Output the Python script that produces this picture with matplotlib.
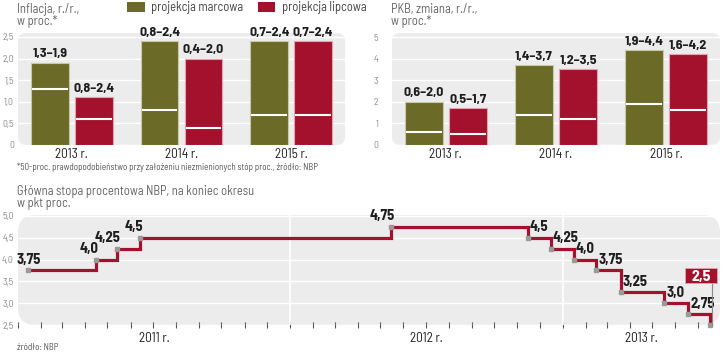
import numpy as np
import matplotlib
matplotlib.use('Agg')
import matplotlib.pyplot as plt
import matplotlib.dates as mdates
from matplotlib.patches import FancyBboxPatch, Patch, Rectangle
from matplotlib.transforms import ScaledTranslation
from matplotlib import font_manager as fm
import datetime as dt

# Fonts (first available from each list)
names = {f.name for f in fm.fontManager.ttflist}


def pick(*cands):
    return [c for c in cands if c in names] + ['DejaVu Sans']


num_font = pick('Barlow Semi Condensed', 'Liberation Sans Narrow', 'Liberation Sans')
txt_font = pick('Barlow Semi Condensed', 'Liberation Sans Narrow', 'Liberation Sans')
plt.rcParams['font.family'] = txt_font

olive = '#6b6a27'
red = '#a4112c'
panel = '#ececec'
gray_txt = '#666666'
tick_txt = '#8a8a8a'

# Data
years = ['2013 r.', '2014 r.', '2015 r.']
series = ['projekcja marcowa', 'projekcja lipcowa']

infl_march_low = [1.3, 0.8, 0.7]
infl_march_high = [1.9, 2.4, 2.4]
infl_july_low = [0.6, 0.4, 0.7]
infl_july_high = [1.1, 2.0, 2.4]
infl_march_labels = ['1,3–1,9', '0,8–2,4', '0,7–2,4']
infl_july_labels = ['0,8–2,4', '0,4–2,0', '0,7–2,4']

gdp_march_low = [0.6, 1.4, 1.9]
gdp_march_high = [2.0, 3.7, 4.4]
gdp_july_low = [0.5, 1.2, 1.6]
gdp_july_high = [1.7, 3.5, 4.2]
gdp_march_labels = ['0,6–2,0', '1,4–3,7', '1,9–4,4']
gdp_july_labels = ['0,5–1,7', '1,2–3,5', '1,6–4,2']

rate_dates = ['2011-01-15', '2011-04-15', '2011-05-14', '2011-06-14', '2012-05-16',
              '2012-11-15', '2012-12-16', '2013-01-16', '2013-02-15', '2013-03-20',
              '2013-05-17', '2013-06-18', '2013-07-18']
rate_values = [3.75, 4.0, 4.25, 4.5, 4.75, 4.5, 4.25, 4.0, 3.75, 3.25, 3.0, 2.75, 2.5]

fig = plt.figure(figsize=(7.21, 3.54), dpi=100)
W, H = 721.0, 354.0


def add_panel(ax):
    bb = ax.get_position()
    asp = (bb.width * W) / (bb.height * H)
    p = FancyBboxPatch((0, 0), 1, 1, boxstyle='round,pad=0,rounding_size=0.025',
                       mutation_aspect=asp, transform=ax.transAxes,
                       facecolor=panel, edgecolor='none', zorder=0, clip_on=False)
    ax.add_patch(p)
    ax.patch.set_visible(False)
    for s in ax.spines.values():
        s.set_visible(False)
    ax.set_axisbelow(True)
    ax.grid(axis='y', color='white', linewidth=1)
    ax.grid(axis='x', visible=False)


def comma(v):
    s = '%.1f' % v if round(v * 10) == v * 10 else '%.2f' % v
    return s.replace('.', ',')


def range_bars(ax, lows_a, highs_a, labs_a, lows_b, highs_b, labs_b, ymax, yticks, ylabs, pad):
    x = np.arange(len(years))
    w = 0.345
    for off, lows, highs, labs, c, ec in [(-0.2, lows_a, highs_a, labs_a, olive, '#c9c8a6'),
                                          (0.2, lows_b, highs_b, labs_b, red, '#e3a3ae')]:
        ax.bar(x + off, highs, width=w, color=c, edgecolor=ec, linewidth=0.8, zorder=2)
        ax.hlines(lows, x + off - w / 2 + 0.01, x + off + w / 2 - 0.01, color='white',
                  linewidth=1.5, zorder=3)
        for xi, hi, lab in zip(x + off, highs, labs):
            ax.annotate(lab, (xi, hi), xytext=(0, 2.5), textcoords='offset points',
                        ha='center', va='bottom', fontsize=10, fontweight='bold',
                        family=num_font, color='#1e1e1e', zorder=4)
    ax.set_xlim(-0.49, 2.49)
    ax.set_ylim(0, ymax)
    ax.set_yticks(yticks, ylabs)
    ax.set_xticks(x, years)
    ax.tick_params(axis='y', length=0, pad=pad, labelsize=7, labelcolor=tick_txt)
    ax.tick_params(axis='x', length=0, pad=2, labelsize=9.5, labelcolor='#222222')


# Inflation panel
ax1 = fig.add_axes([18 / W, 1 - 145 / H, 327 / W, 112 / H])
add_panel(ax1)
range_bars(ax1, infl_march_low, infl_march_high, infl_march_labels,
           infl_july_low, infl_july_high, infl_july_labels,
           2.59, [0, 0.5, 1.0, 1.5, 2.0, 2.5], ['0', '0,5', '1,0', '1,5', '2,0', '2,5'], 3)

# GDP panel
ax2 = fig.add_axes([392 / W, 1 - 145 / H, 328 / W, 112 / H])
add_panel(ax2)
range_bars(ax2, gdp_march_low, gdp_march_high, gdp_march_labels,
           gdp_july_low, gdp_july_high, gdp_july_labels,
           5.19, [0, 1, 2, 3, 4, 5], ['0', '1', '2', '3', '4', '5'], 10)

# Rate panel
ax3 = fig.add_axes([18 / W, 1 - 325 / H, 702 / W, 110 / H])
add_panel(ax3)
d = [mdates.date2num(dt.date.fromisoformat(s)) for s in rate_dates]
x0 = mdates.date2num(dt.date(2011, 1, 1))
x1 = mdates.date2num(dt.date(2013, 7, 31))
ax3.set_xlim(x0, x1)
ax3.set_ylim(2.5, 5.02)
yt = [2.5, 3.0, 3.5, 4.0, 4.5, 5.0]
ax3.set_yticks(yt, [comma(t) for t in yt])
ax3.tick_params(axis='y', length=0, pad=3, labelsize=7, labelcolor=tick_txt)
for yr in [2012, 2013]:
    ax3.axvline(mdates.date2num(dt.date(yr, 1, 1)), color='white', linewidth=1.2, zorder=0.6)

ax3.step(d, rate_values, where='post', color=red, linewidth=2.3, zorder=3,
         solid_joinstyle='miter', solid_capstyle='butt', clip_on=False)
ax3.plot(d, rate_values, linestyle='none', marker='s', markersize=2.5, color='#9a9a9a',
         zorder=4, clip_on=False)

for i, (xi, v) in enumerate(zip(d[:-1], rate_values[:-1])):
    if i == 0:
        ha, dx = 'center', 0
    elif v > rate_values[i - 1]:
        ha, dx = 'right', 2.5
    else:
        ha, dx = 'left', 1.5
    ax3.annotate(comma(v), (xi, v), xytext=(dx, 2.5), textcoords='offset points',
                 ha=ha, va='bottom', fontsize=10.5, fontweight='bold', family=num_font,
                 color='#1e1e1e', zorder=5)

# highlighted last value: box + leader line, placed in inches relative to the last point
tr = fig.dpi_scale_trans + ScaledTranslation(d[-1], rate_values[-1], ax3.transData)
ax3.add_patch(Rectangle((-0.25, 0.42), 0.32, 0.15, transform=tr, facecolor=red,
                        edgecolor='#e3a3ae', linewidth=0.6, zorder=6, clip_on=False))
ax3.plot([0.02, 0.02], [0.0, 0.42], transform=tr, color='#8a8a8a', linewidth=0.8,
         zorder=5, clip_on=False)
ax3.annotate(comma(rate_values[-1]), (d[-1], rate_values[-1]), xytext=(-6.5, 31.4),
             textcoords='offset points', ha='center', va='baseline', fontsize=11.5,
             fontweight='bold', family=num_font, color='white', zorder=7)

# month ticks and year labels
ax3.xaxis.set_minor_locator(mdates.MonthLocator())
centers, ylabels = [], []
for yr in [2011, 2012, 2013]:
    a = max(mdates.date2num(dt.date(yr, 1, 1)), x0)
    b = min(mdates.date2num(dt.date(yr + 1, 1, 1)), x1)
    centers.append((a + b) / 2)
    ylabels.append('%d r.' % yr)
ax3.set_xticks(centers, ylabels)
ax3.tick_params(axis='x', which='major', length=0, pad=5, labelsize=9.5, labelcolor='#222222')
ax3.tick_params(axis='x', which='minor', length=4, width=0.8, direction='inout', color='#555555')

# Titles, legend, notes
fig.text(17 / W, 1 - 9 / H, 'Inflacja, r./r.,', fontsize=9, color=gray_txt, va='center')
fig.text(17 / W, 1 - 22 / H, 'w proc.*', fontsize=9, color=gray_txt, va='center')
fig.text(391 / W, 1 - 9 / H, 'PKB, zmiana, r./r.,', fontsize=9, color=gray_txt, va='center')
fig.text(391 / W, 1 - 22 / H, 'w proc.*', fontsize=9, color=gray_txt, va='center')
fig.text(17 / W, 1 - 167 / H,
         '*50-proc. prawdopodobieństwo przy założeniu niezmienionych stóp proc., źródło: NBP',
         fontsize=6.5, color='#555555', va='center')
fig.text(17 / W, 1 - 191 / H, 'Główna stopa procentowa NBP, na koniec okresu',
         fontsize=9, color=gray_txt, va='center')
fig.text(17 / W, 1 - 203 / H, 'w pkt proc.', fontsize=9, color=gray_txt, va='center')
fig.text(17 / W, 1 - 348 / H, 'źródło: NBP', fontsize=6.5, color='#555555', va='center')

handles = [Patch(facecolor=olive), Patch(facecolor=red)]
fig.legend(handles, series, loc='upper left', bbox_to_anchor=(127 / W, 1 - 1 / H), ncol=2,
           frameon=False, fontsize=9, handlelength=1.4, handleheight=0.85,
           handletextpad=0.5, columnspacing=1.2, borderpad=0, borderaxespad=0,
           labelcolor='#444444')

fig.savefig('out.png', dpi=100)
